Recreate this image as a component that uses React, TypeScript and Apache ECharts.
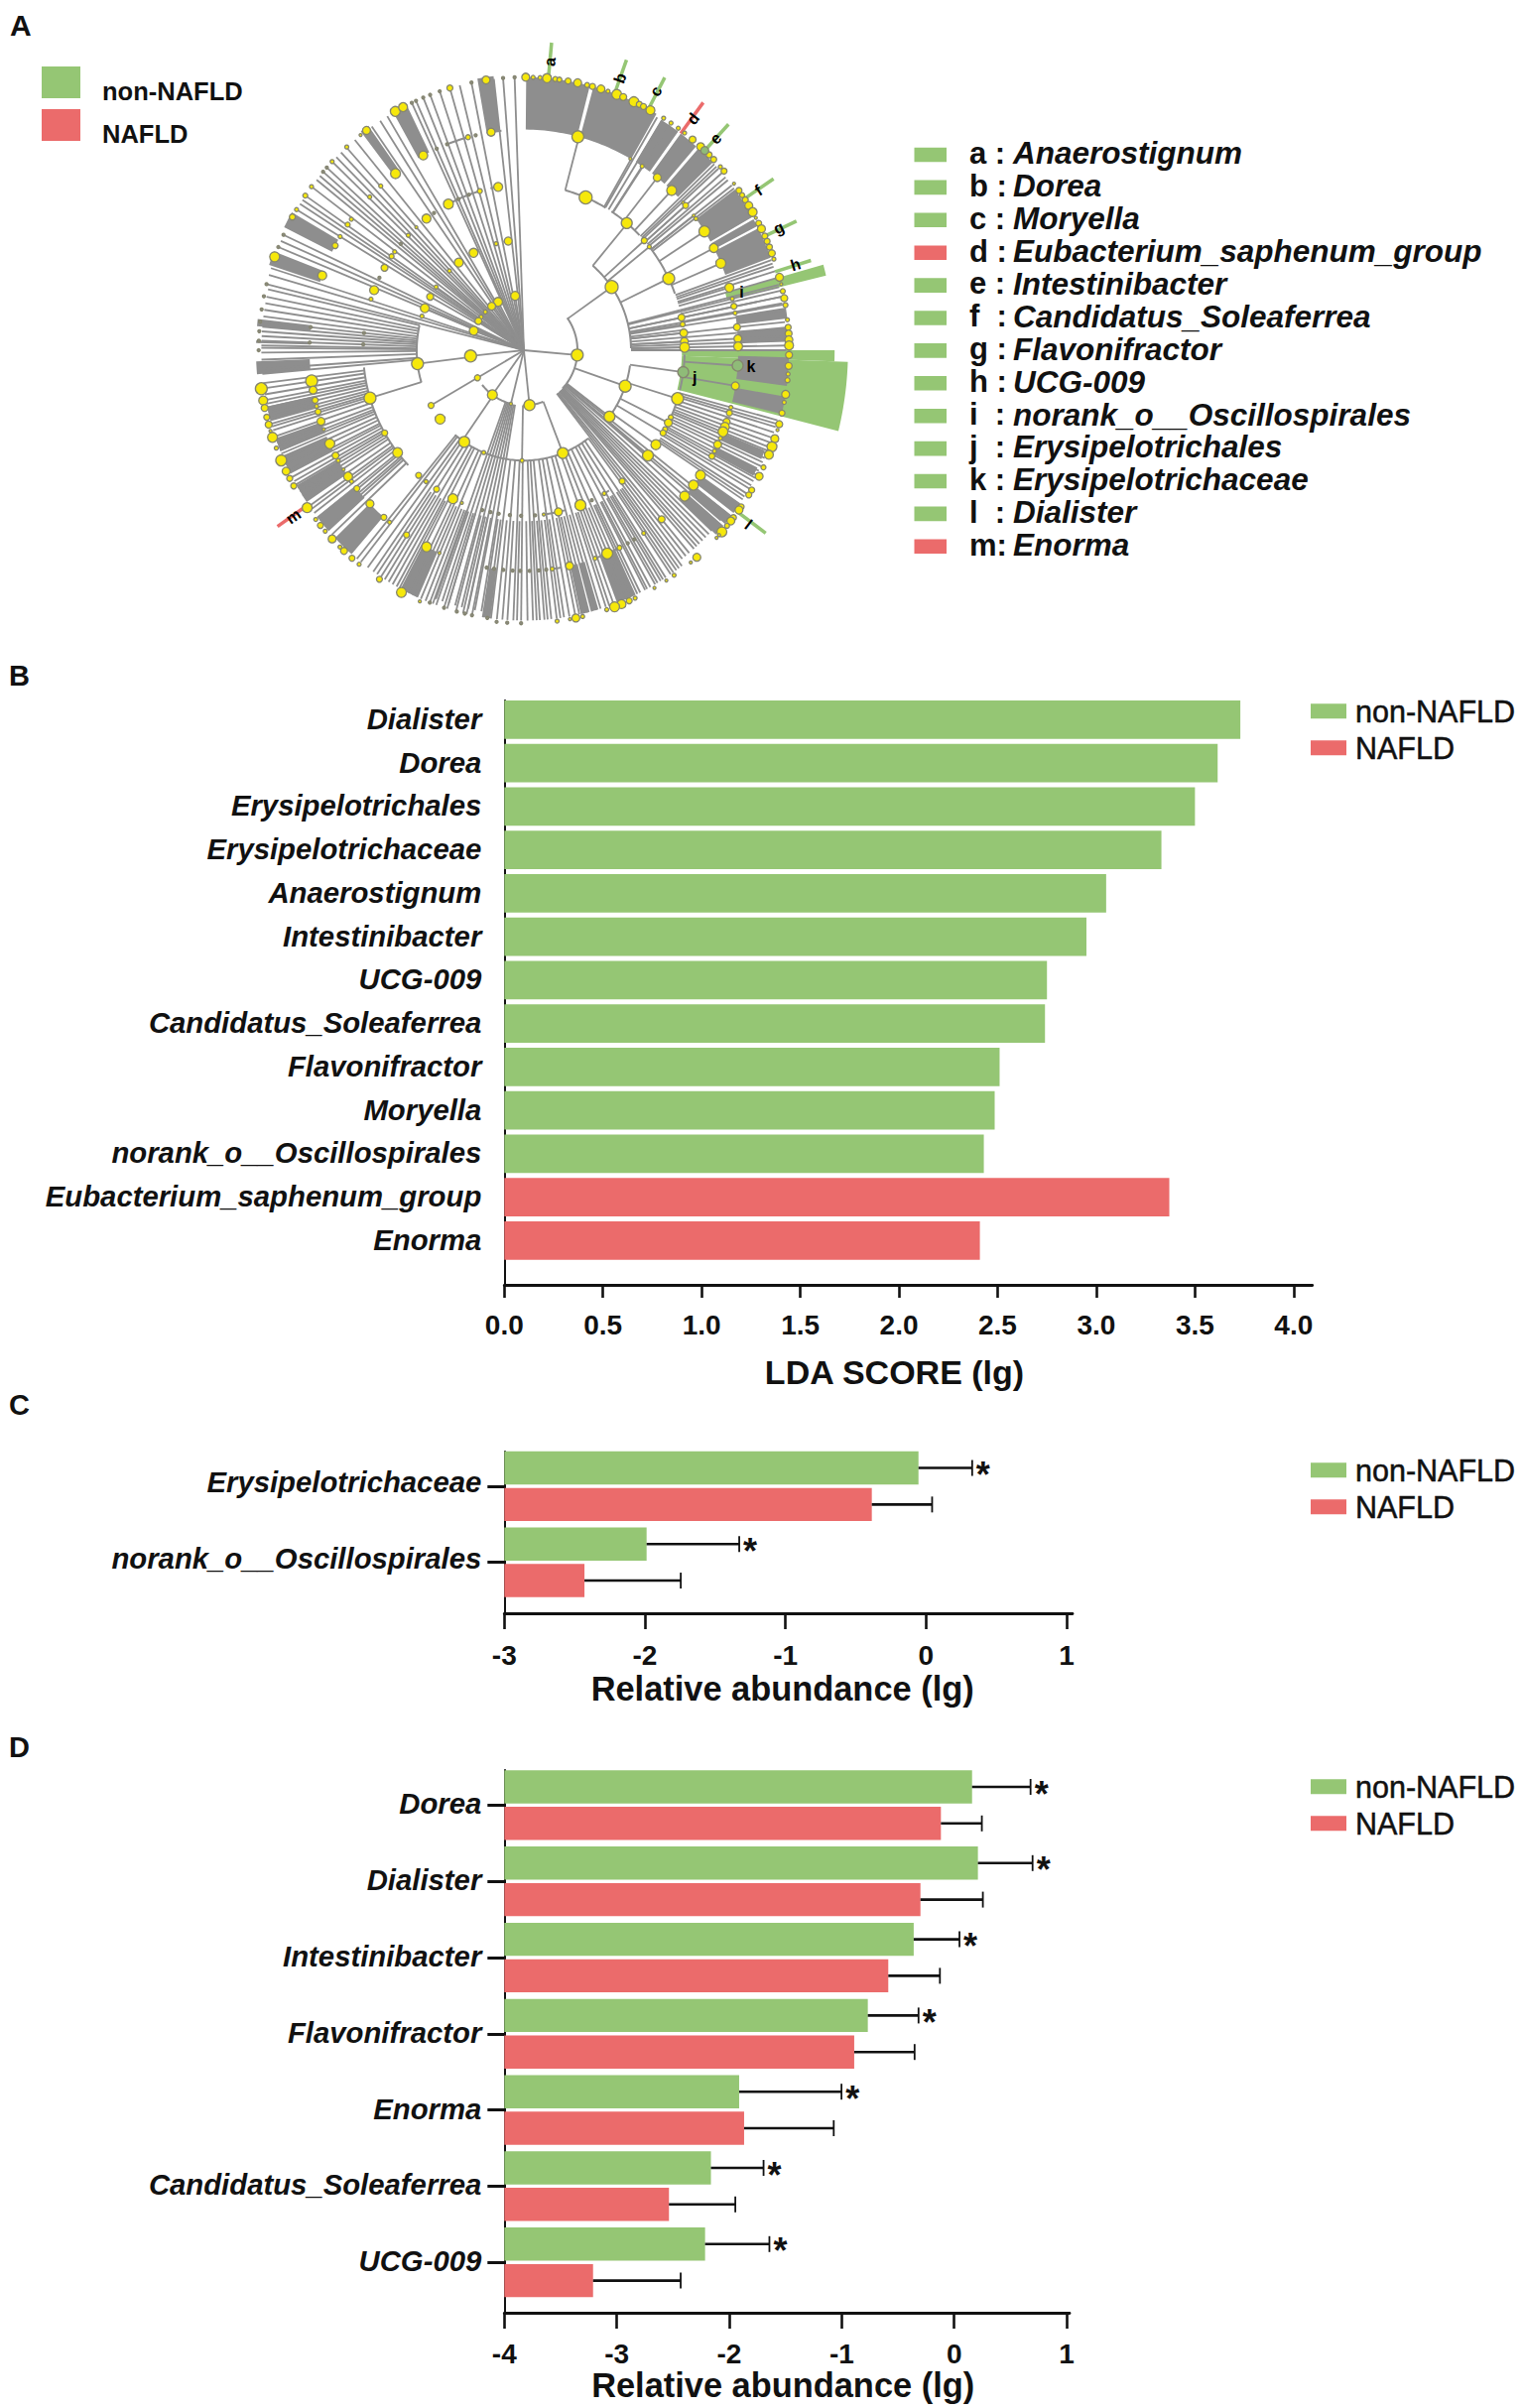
import React, { useEffect, useRef } from "react";
import * as echarts from "echarts";

const GREEN = "#95C674";
const RED = "#EB6B6B";
const GREY = "#8E8E8E";
const FONT = "'Liberation Sans', Arial, sans-serif";

// Panel B
const ldaNames = ["Dialister", "Dorea", "Erysipelotrichales", "Erysipelotrichaceae", "Anaerostignum", "Intestinibacter", "UCG-009", "Candidatus_Soleaferrea", "Flavonifractor", "Moryella", "norank_o__Oscillospirales", "Eubacterium_saphenum_group", "Enorma"];
const ldaNonNafld = [3.73, 3.615, 3.5, 3.33, 3.05, 2.95, 2.75, 2.74, 2.51, 2.485, 2.43, null, null];
const ldaNafld = [null, null, null, null, null, null, null, null, null, null, null, 3.37, 2.41];
const ldaTicks = [0, 0.5, 1, 1.5, 2, 2.5, 3, 3.5, 4];

// Panel C
const cNames = ["Erysipelotrichaceae", "norank_o__Oscillospirales"];
const cNonNafld = [-0.054, -1.988];
const cNonNafldErr = [0.328, -1.329];
const cNafld = [-0.386, -2.43];
const cNafldErr = [0.043, -1.745];
const cTicks = [-3, -2, -1, 0, 1];

// Panel D
const dNames = ["Dorea", "Dialister", "Intestinibacter", "Flavonifractor", "Enorma", "Candidatus_Soleaferrea", "UCG-009"];
const dNonNafld = [0.159, 0.211, -0.36, -0.768, -1.912, -2.163, -2.215];
const dNonNafldErr = [0.679, 0.697, 0.047, -0.317, -1.002, -1.695, -1.643];
const dNafld = [-0.118, -0.3, -0.586, -0.889, -1.868, -2.536, -3.211];
const dNafldErr = [0.246, 0.255, -0.127, -0.352, -1.071, -1.946, -2.432];
const dTicks = [-4, -3, -2, -1, 0, 1];

// Panel A: key
const keyLetters = ["a :", "b :", "c :", "d :", "e :", "f  :", "g :", "h :", "i  :", "j  :", "k :", "l  :", "m:"];
const keyNames = ["Anaerostignum", "Dorea", "Moryella", "Eubacterium_saphenum_group", "Intestinibacter", "Candidatus_Soleaferrea", "Flavonifractor", "UCG-009", "norank_o__Oscillospirales", "Erysipelotrichales", "Erysipelotrichaceae", "Dialister", "Enorma"];
const keyGroups = [0, 0, 0, 1, 0, 0, 0, 0, 0, 0, 0, 0, 1];

// Panel A: cladogram, in [angle clockwise from north, ring radius]
const centreSpokes = [358, 355.5, 353.5, 348.6, 346, 343.8, 341.5, 339.3, 337.7, 336, 335, 329, 327.2, 325, 320.4, 318, 316.4, 315, 313.7, 312, 310.8, 309.7, 308.6, 306.8, 304.5, 303.4, 302.4, 301, 295, 293.6, 292.2, 287.5, 286, 284];
const centreToPhylum = [95, 174, 194, 216, 240, 264, 350.6, 331.2, 323, 311, 307, 302, 290.7];
const phylumToClass = [55, 109, 127, 158.7, 181, 215, 240, 263, 305, 299, 292.4];
const phylumSpokesOut = [128, 129.2, 130, 131.5, 133, 134, 135, 136, 137, 137.8, 138.6, 140, 141, 142, 189.5, 191, 192.5, 194, 195.5, 197, 198.5, 200];
const classToOrder = [40, 48.5, 51.3, 64.3, 76, 78.6, 81, 83, 84, 87, 89, 97.6, 107, 116, 120, 124.8, 129.5, 253.2];
const classSpokesOut = [76.5, 78.6, 80.3, 81.5, 84, 85.5, 87, 88, 89, 90, 143, 145.3, 147.3, 149.4, 151.2, 153.7, 156, 158, 160, 163, 165, 167.8, 170, 172, 174.8, 176.5, 178, 180.6, 182.3, 184.7, 187.2, 203.1, 205, 207.5, 209, 211, 213, 215, 216.5, 218.4, 219.5, 265, 266, 268, 269.5, 270.5, 271, 272, 273, 274, 275, 276, 277.2, 278.6, 280, 281.4, 283];
const bottomOuterSpokes = [143.8, 144.5, 146, 148, 148.6, 150, 152, 152.5, 154.4, 155, 157, 159, 161, 161.8, 164, 166, 167, 168.7, 171.2, 172.8, 174, 175.5, 177.2, 179.2, 181.5, 183.6, 185.9, 188, 189, 191.4, 192.6, 193.4, 195, 197, 197.7, 199.5, 200.3, 201, 202, 204, 206, 208.3, 210, 212, 214];
const orderToFamily = [14.9, 30, 33.5, 38.5, 43.6, 49, 52.4, 57.4, 62.4, 66.8, 73.5, 94, 99.3];
const orderSpokesOut = [30.5, 31.8, 33.7, 46.5, 47.2, 47.8, 49, 50.2, 51, 52.4, 53.2, 70.5, 71.3, 72, 73, 74.5, 76, 77.3, 78.6, 80, 105, 105.8, 106.5, 107.7, 108.9, 110, 111, 111.8, 112.5, 113.5, 114.5, 115.4, 116.5, 117.5, 118.2, 119, 120, 120.8, 122, 122.8, 123.5, 227, 228.5, 229.3, 230, 231, 231.7, 233, 234, 234.8, 236, 237.5, 238.5, 239.4, 240.2, 241, 242, 243, 243.7, 245, 246.2, 247.5, 248.3, 249, 250, 251.4, 252.8, 253.6, 254.2, 255, 255.8, 256.8, 257.8, 258.6, 259.4, 260.6, 261.9, 263];
const cladeArcs = [
  [0.2, 54, 134], [0.2, 159, 181], [0.2, 194, 231],
  [0.4, 40, 89], [0.4, 98, 127], [0.4, 143, 220], [0.4, 253, 283],
  [0.6, 14.9, 30.5], [0.6, 33, 46], [0.6, 51.5, 70], [0.6, 91.5, 104], [0.6, 105, 114], [0.6, 226, 264],
  [0.6, 148, 151], [0.6, 165, 173], [0.6, 332, 345], [0.6, 348, 352], [0.8, 153, 160], [0.8, 170, 173], [0.8, 339, 345], [0.8, 350, 354], [0.4, 349, 352],
];
const leafBands = [
  [0.5, 14.4, 0.8, 0.99], [15.2, 30, 0.8, 0.99], [31.5, 36, 0.8, 0.98], [36.7, 41, 0.8, 0.98], [41.7, 46, 0.8, 0.98],
  [53.5, 60.5, 0.8, 0.98], [61, 62.7, 0.8, 0.98], [63.2, 70, 0.8, 0.98], [81, 83.3, 0.8, 0.99], [85, 88, 0.8, 0.99],
  [91.5, 97.5, 0.8, 0.99], [99.8, 103.5, 0.8, 0.99], [112, 114, 0.8, 0.97], [116, 118, 0.8, 0.97],
  [124.5, 127, 0.8, 0.98], [127.7, 130, 0.8, 0.98], [130.5, 133, 0.8, 0.98], [155, 159, 0.8, 0.98], [163.5, 165, 0.8, 0.98], [165.5, 167.5, 0.8, 0.98], [187.3, 189, 0.8, 0.98],
  [204, 208, 0.8, 0.98], [221, 226, 0.8, 0.98], [228, 232, 0.8, 0.98], [236, 240, 0.8, 0.98], [243, 247, 0.8, 0.98], [248, 251, 0.8, 0.98], [255, 258, 0.8, 0.98],
  [265, 267.7, 0.8, 1], [271.5, 272, 0.8, 1], [275, 276.5, 0.8, 1], [288, 291, 0.8, 1], [296.5, 300, 0.8, 1], [322.5, 324.5, 0.8, 1], [330.5, 333.8, 0.8, 1], [350, 353.5, 0.8, 1],
];
const highlightBands = [[90, 92, 0.59, 1.16], [92, 104, 0.59, 1.21], [74.5, 76.5, 0.78, 1.16]];
const markerAngles = [5.3, 20, 28, 36.7, 43, 56.3, 65.3, 73.1, 126.3, 235.2];
const markerGroups = [0, 0, 0, 1, 0, 0, 0, 0, 0, 1];
const cladeLabels = ["a", "b", "c", "d", "e", "f", "g", "h", "i", "j", "k", "l", "m"];
const cladeLabelAngles = [5.3, 20, 27.7, 37, 43, 56.5, 65, 73, 75.5, 98.7, 94, 127, 235];
const cladeLabelRadii = [1.05, 1.05, 1.06, 1.05, 1.05, 1.05, 1.05, 1.06, 0.84, 0.645, 0.85, 1.05, 1.05];
const cladeLabelTurns = [85, 70, 62, 53, 47, 33, 25, 17, 0, 0, 0, -37, 35];

const genusNodes = [
  [0.4, 4], [2, 2], [3.5, 2], [5, 4.5], [6.8, 2.5], [7.7, 2.5], [9.6, 3], [11.7, 4], [13.8, 2.5], [15, 3], [16.9, 4], [18.5, 2], [20.5, 5], [22, 3.5], [24.5, 5], [25.8, 3], [26.8, 3], [28.5, 4.5],
  [31.8, 2], [33.7, 2], [35.6, 2], [37.3, 2], [39.5, 3.5], [41.8, 4], [44.3, 3], [45.7, 3], [47.8, 2], [49, 3], [52.4, 1.5], [54.2, 3], [55.4, 2.5], [56.6, 3], [58, 4], [59.6, 4.5], [61, 1.5], [62.3, 3], [63.6, 4], [65.3, 3], [66.5, 3], [67.8, 3], [69.2, 3.5], [70.5, 2], [74.5, 4], [76, 1.5], [77.5, 2.5], [79, 3.5], [80.5, 2.5], [83.6, 2], [85.2, 3], [86.5, 3.5], [87.8, 4], [89, 4.5], [91, 3.5],
  [93.3, 3.5], [95, 2], [96.3, 2.5], [99.3, 4], [101, 2], [103.3, 3], [105.7, 3.5], [107, 1.5], [108.9, 4], [110.7, 5], [112.5, 4.5], [115.4, 2.5], [117.5, 4], [120.8, 3], [122, 3], [125, 3], [125.8, 4], [127.8, 3], [128.7, 4], [130, 2.5], [131.7, 5], [132.6, 1.5], [133.4, 1.5],
  [139.3, 4], [141, 1.5], [145.5, 2], [147.5, 1.5], [150.5, 1.5], [155.2, 2], [156.6, 3], [158.4, 4.5], [160, 5], [161.8, 2], [167.2, 2], [168.7, 4], [170, 1.5], [172.8, 2],
  [261.9, 6], [259.4, 4.5], [257.8, 3.5], [255.8, 3], [254.2, 3.5], [252.8, 1.5], [251.4, 5], [249, 2], [246.2, 5.5], [243.7, 4], [242, 3], [240.2, 3], [234.8, 5], [231.7, 2], [230.1, 3], [228.5, 2], [226.3, 4], [223.9, 2], [222.7, 3.5], [220.4, 3], [218.4, 2], [213, 3], [207.5, 5], [203.1, 1.5],
  [351.8, 4], [343.8, 3], [331, 5], [332.9, 4.5], [323.6, 4], [322, 1.5], [318.1, 2], [313.7, 2], [306.8, 2], [304.5, 2.5], [301, 2], [299.2, 3], [290, 5],
];
const familyNodes = [
  [14.6, 6], [29.8, 1.5], [33.5, 2], [38.5, 4], [43.6, 5], [48, 1.5], [49, 3], [52.4, 1.5], [53.4, 2], [57.4, 5.5], [62.4, 4.5], [66.8, 5], [73.5, 4.5], [76.5, 2], [78.5, 3], [80.3, 2], [84, 3.5], [87, 4], [89, 4.5],
  [99.3, 4], [105, 2], [106.5, 3], [108.9, 3.5], [110.3, 4.5], [111.7, 5], [113.5, 2], [115.3, 4], [117.2, 2], [118.7, 3], [124.5, 5], [127.7, 5], [131.4, 5],
  [140, 3.5], [146, 2], [153.5, 2.5], [157.1, 5.5], [160.6, 2], [167.7, 4], [172.4, 2],
  [262, 6], [259.6, 4], [256.9, 3], [255.3, 2], [253.8, 3], [251.2, 4], [249, 1.5], [244.9, 5], [241.5, 3.5], [240, 2], [237.3, 1.5], [235.1, 4.5], [233.5, 2], [231.2, 3], [225.9, 4], [220.8, 3], [218.8, 2], [213.2, 3], [207, 5], [203.2, 1.5],
  [351.2, 4], [344.9, 2.5], [332, 4.5], [323.2, 5], [318.1, 2], [314, 2], [306.4, 2], [304.7, 2.5], [301, 2], [298.3, 3], [289.8, 4.5],
];
const orderNodes = [
  [22.6, 6.5], [39.8, 5.5], [48.5, 3], [51.3, 2], [64.3, 6], [78.6, 3.5], [81, 2.5], [84, 4], [87, 4], [89, 5], [107, 6], [113.9, 2.5], [116, 4], [118.5, 2.5], [120, 3], [124.8, 5], [129.5, 5.5],
  [142.3, 3], [150, 2], [159.4, 5.5], [167.6, 4], [172.9, 1.5],
  [253.2, 6], [240, 3], [231.8, 5], [220.9, 3], [217.5, 2], [212.9, 3], [206.2, 5], [202.7, 1.5],
  [350.8, 4.5], [344.1, 2.5], [332, 5], [322.7, 4.5], [318, 1.5], [314, 2], [306.5, 2], [304.6, 2.5], [299.9, 3.5], [291.3, 4.5], [288, 2],
];
const classNodes = [[55, 6.5], [109, 6], [127, 5.5], [158.7, 5.5], [181, 2], [202, 2], [213.8, 5.5], [231.4, 5], [240, 3], [263, 6], [351.6, 4], [345, 2], [332, 4.5], [322.6, 4.5], [316, 2], [305, 2], [299, 3.5], [292.4, 4.5], [288, 2]];
const phylumNodes = [[95, 6], [174, 5.5], [194, 1.5], [216, 5], [240, 3], [264, 6], [350.6, 4.5], [331.2, 4.5], [323, 4], [314, 2], [307, 2], [302, 3.5], [290.7, 4.5]];
const tinyNodes = [
  [180.6, 0.99], [183.6, 0.99], [185.9, 0.99], [188, 0.98], [191.4, 0.98], [193, 0.98], [194.8, 0.98], [197.7, 0.98], [201, 0.98], [355.5, 0.99], [358, 0.99], [348.6, 0.99], [341.5, 0.99], [339.3, 0.99], [337.7, 0.99], [336, 0.99], [335, 0.99], [312, 0.99], [310.8, 0.99], [295, 0.99], [292.2, 0.99], [284, 0.99], [281.4, 0.99], [278.6, 0.99], [276, 0.99], [274, 0.99], [272, 0.99], [270, 0.99],
  [174, 0.8], [176, 0.8], [178.5, 0.8], [181, 0.8], [183, 0.8], [185.5, 0.8], [188, 0.8], [190, 0.8], [176, 0.6], [181, 0.6], [185, 0.6], [189, 0.6], [192, 0.6], [195, 0.6], [276, 0.8], [272, 0.8], [276, 0.6], [272, 0.6],
  [347, 0.8], [336, 0.8], [339, 0.8], [336, 0.6], [340, 0.6], [326, 0.6], [310, 0.6], [296, 0.6], [149, 0.8], [151, 0.8], [155, 0.6],
];

const polar = (angle: number, r: number) => {
  const t = (angle * Math.PI) / 180;
  return [r * Math.sin(t), r * Math.cos(t)];
};
const arcPoints = (api: any, r: number, a0: number, a1: number) => {
  const pts: number[][] = [];
  for (let a = a0; a < a1; a += 1) pts.push(api.coord(polar(a, r)));
  pts.push(api.coord(polar(a1, r)));
  return pts;
};

const spokeRows = [
  ...centreSpokes.map((a) => [a, 0, 0.99]),
  ...centreToPhylum.map((a) => [a, 0, 0.2]),
  ...phylumToClass.map((a) => [a, 0.2, 0.4]),
  ...phylumSpokesOut.map((a) => [a, 0.2, 0.96]),
  ...classToOrder.map((a) => [a, 0.4, 0.6]),
  ...classSpokesOut.map((a) => [a, 0.4, 0.98]),
  ...bottomOuterSpokes.map((a) => [a, 0.62, 0.98]),
  ...orderToFamily.map((a) => [a, 0.6, 0.8]),
  ...orderSpokesOut.map((a) => [a, 0.6, 0.98]),
];
const nodeRows = [
  ...tinyNodes.map((n) => [n[0], n[1], 1.5, 1]),
  ...genusNodes.map((n) => [n[0], 0.99, n[1], 0]),
  ...familyNodes.map((n) => [n[0], 0.8, n[1], 0]),
  ...orderNodes.map((n) => [n[0], 0.6, n[1], 0]),
  ...classNodes.map((n) => [n[0], 0.4, n[1], 0]),
  ...phylumNodes.map((n) => [n[0], 0.2, n[1], 0]),
  [43, 0.99, 4, 2],
  [97.6, 0.6, 5.5, 2],
  [94, 0.8, 5.5, 2],
];

const sectorRender = (color: string) => (_: any, api: any) => {
  const a0 = api.value(0), a1 = api.value(1), r0 = api.value(2), r1 = api.value(3);
  return {
    type: "polygon",
    shape: { points: [...arcPoints(api, r0, a0, a1), ...arcPoints(api, r1, a0, a1).reverse()] },
    style: { fill: color, stroke: "none" },
  };
};

const barRender = (axisMin: number, shift: number, color: string, star: boolean) => (_: any, api: any) => {
  const value = api.value(0), cat = api.value(1), err = api.value(2);
  const start = api.coord([axisMin, cat]);
  const end = api.coord([value, cat]);
  const cap = api.coord([err, cat]);
  const y = start[1] + shift;
  const children: any[] = [
    { type: "rect", shape: { x: start[0], y: y - 16.7, width: end[0] - start[0], height: 33.4 }, style: { fill: color } },
    { type: "line", shape: { x1: end[0], y1: y, x2: cap[0], y2: y }, style: { stroke: "#111", lineWidth: 2.6 } },
    { type: "line", shape: { x1: cap[0], y1: y - 8, x2: cap[0], y2: y + 8 }, style: { stroke: "#111", lineWidth: 1.8 } },
  ];
  if (star) children.push({ type: "text", x: cap[0] + 11, y: y + 7, style: { text: "*", font: `bold 36px ${FONT}`, fill: "#111", align: "center", verticalAlign: "middle" } });
  return { type: "group", children };
};

const outerAxes = (i: number, min: number, max: number, ticks: number[], name: string, gap: number, shift: number, labelMargin: number, digits: number, tickLen: number, nameSize: number) => ({
  x: {
    gridIndex: i, type: "value", min, max, name, nameLocation: "middle", nameGap: gap,
    nameTextStyle: { fontFamily: FONT, fontWeight: "bold", fontSize: nameSize, color: "#111", padding: [0, shift, 0, 0] },
    axisLine: { show: true, onZero: false, lineStyle: { color: "#111", width: 2.8 } },
    axisTick: { show: true, length: tickLen, customValues: ticks, lineStyle: { color: "#111", width: 2.6 } },
    axisLabel: { customValues: ticks, margin: labelMargin, fontFamily: FONT, fontWeight: "bold", fontSize: 28, color: "#111", formatter: (v: number) => v.toFixed(digits) },
    splitLine: { show: false },
  },
  y: {
    gridIndex: i, type: "value", min: 0, max: 1,
    axisLine: { show: true, onZero: false, lineStyle: { color: "#111", width: 2 } },
    axisTick: { show: false }, axisLabel: { show: false }, splitLine: { show: false },
  },
});
const hiddenX = (i: number, min: number, max: number) => ({ gridIndex: i, type: "value", min, max, show: false });
const catAxis = (i: number, data: string[], ticks: boolean, margin: number, lineHeight: number) => ({
  gridIndex: i, type: "category", data, inverse: true,
  axisLine: { show: false, onZero: false },
  axisTick: { show: ticks, alignWithLabel: true, length: 17, lineStyle: { color: "#111", width: 3 } },
  axisLabel: { margin, verticalAlign: "bottom", lineHeight, fontFamily: FONT, fontWeight: "bold", fontStyle: "italic", fontSize: 29.3, color: "#111", interval: 0 },
});
const legendAt = (top: number) => ({
  left: 1321, top, orient: "vertical", icon: "rect", itemWidth: 36, itemHeight: 15, itemGap: 5.5, selectedMode: false, padding: 0,
  data: ["non-NAFLD", "NAFLD"],
  textStyle: { fontFamily: FONT, fontSize: 30.5, color: "#111", lineHeight: 30, padding: [0, 0, 0, 4], textBorderColor: "#111", textBorderWidth: 0.5 },
});
const txt = (x: number, y: number, text: string, font: string) => ({ type: "text", x, y, silent: true, style: { text, font: `${font} ${FONT}`, fill: "#111", align: "left", verticalAlign: "middle" } });

const buildOption = () => {
  const bAxes = outerAxes(2, 0, 4.095, ldaTicks, "LDA SCORE (lg)", 71, 28, 26, 1, 13, 34);
  const cAxes = outerAxes(4, -3, 1.042, cTicks, "Relative abundance (lg)", 59, 12, 28, 0, 16, 34.4);
  const dAxes = outerAxes(6, -4, 1.026, dTicks, "Relative abundance (lg)", 55, 8, 27, 0, 16, 34.4);
  const graphics: any[] = [
    txt(10, 25, "A", "bold 30px"), txt(9, 681, "B", "bold 29px"), txt(9, 1416, "C", "bold 29px"), txt(9, 1761, "D", "bold 29px"),
    { type: "rect", shape: { x: 42, y: 67, width: 39, height: 32 }, style: { fill: GREEN } },
    { type: "rect", shape: { x: 42, y: 110, width: 39, height: 32 }, style: { fill: RED } },
    txt(103, 92, "non-NAFLD", "bold 25.5px"), txt(103, 135, "NAFLD", "bold 25.5px"),
  ];
  keyNames.forEach((name, i) => {
    const y = 156 + i * 32.9;
    graphics.push({ type: "rect", shape: { x: 921.5, y: y - 7.3, width: 32.5, height: 14.6 }, style: { fill: keyGroups[i] ? RED : GREEN } });
    graphics.push(txt(977, y - 1.7, keyLetters[i], "bold 31px"));
    graphics.push(txt(1021, y - 1.7, name, "italic bold 31.5px"));
  });

  const clado = { xAxisIndex: 0, yAxisIndex: 0, type: "custom", silent: true, clip: false };
  return {
    animation: false,
    backgroundColor: "#fff",
    textStyle: { fontFamily: FONT },
    graphic: graphics,
    legend: [legendAt(701), legendAt(1466), legendAt(1785)],
    grid: [
      { left: 258, top: 75, width: 540, height: 556 },
      { left: 508.3, top: 703.5, width: 814.4, height: 568.7 },
      { left: 508.3, top: 706, width: 814.4, height: 589 },
      { left: 508.3, top: 1459.6, width: 572.7, height: 153.4 },
      { left: 508.3, top: 1463, width: 572.7, height: 163 },
      { left: 508.3, top: 1781, width: 569.7, height: 537.6 },
      { left: 508.3, top: 1784, width: 569.7, height: 547 },
    ],
    xAxis: [
      { gridIndex: 0, type: "value", min: -1, max: 1, show: false },
      hiddenX(1, 0, 4.095), bAxes.x,
      hiddenX(3, -3, 1.042), cAxes.x,
      hiddenX(5, -4, 1.026), dAxes.x,
    ],
    yAxis: [
      { gridIndex: 0, type: "value", min: -1, max: 1, show: false },
      catAxis(1, ldaNames, false, 23, 2), bAxes.y,
      catAxis(3, cNames, true, 23, 8), cAxes.y,
      catAxis(5, dNames, true, 23, 3), dAxes.y,
    ],
    series: [
      { ...clado, name: "highlight", z: 1, data: highlightBands, renderItem: sectorRender(GREEN) },
      { ...clado, name: "leaf bands", z: 2, data: leafBands, renderItem: sectorRender(GREY) },
      {
        ...clado, name: "spokes", z: 3, data: spokeRows,
        renderItem: (_: any, api: any) => {
          const p0 = api.coord(polar(api.value(0), api.value(1)));
          const p1 = api.coord(polar(api.value(0), api.value(2)));
          return { type: "line", shape: { x1: p0[0], y1: p0[1], x2: p1[0], y2: p1[1] }, style: { stroke: GREY, lineWidth: 1.8 } };
        },
      },
      {
        ...clado, name: "arcs", z: 3, data: cladeArcs,
        renderItem: (_: any, api: any) => ({ type: "polyline", shape: { points: arcPoints(api, api.value(0), api.value(1), api.value(2)) }, style: { stroke: GREY, lineWidth: 2, fill: "none" } }),
      },
      {
        ...clado, name: "markers", z: 4, data: markerAngles.map((a, i) => [a, markerGroups[i]]),
        renderItem: (_: any, api: any) => {
          const p0 = api.coord(polar(api.value(0), 0.98));
          const p1 = api.coord(polar(api.value(0), 1.12));
          return { type: "line", shape: { x1: p0[0], y1: p0[1], x2: p1[0], y2: p1[1] }, style: { stroke: api.value(1) ? RED : GREEN, lineWidth: 3.5 } };
        },
      },
      {
        ...clado, name: "nodes", z: 5, data: nodeRows,
        renderItem: (_: any, api: any) => {
          const p = api.coord(polar(api.value(0), api.value(1)));
          const kind = api.value(3);
          return {
            type: "circle", shape: { cx: p[0], cy: p[1], r: api.value(2) },
            style: { fill: kind === 2 ? "#8FBB78" : kind === 1 ? "#8A8A80" : "#F6E80B", stroke: "#85856F", lineWidth: 1.3 },
          };
        },
      },
      {
        ...clado, name: "clade labels", z: 6, data: cladeLabels.map((_, i) => [cladeLabelAngles[i], cladeLabelRadii[i], cladeLabelTurns[i], i]),
        renderItem: (_: any, api: any) => {
          const p = api.coord(polar(api.value(0), api.value(1)));
          return { type: "text", x: p[0], y: p[1], rotation: (api.value(2) * Math.PI) / 180, style: { text: cladeLabels[api.value(3)], font: `bold 16px ${FONT}`, fill: "#000", align: "center", verticalAlign: "middle" } };
        },
      },

      { type: "bar", name: "non-NAFLD", xAxisIndex: 1, yAxisIndex: 1, data: ldaNonNafld, barWidth: 38.8, barGap: "-100%", itemStyle: { color: GREEN } },
      { type: "bar", name: "NAFLD", xAxisIndex: 1, yAxisIndex: 1, data: ldaNafld, barWidth: 38.8, barGap: "-100%", itemStyle: { color: RED } },

      { type: "custom", name: "non-NAFLD", xAxisIndex: 3, yAxisIndex: 3, itemStyle: { color: GREEN }, data: cNonNafld.map((v, i) => [v, i, cNonNafldErr[i]]), renderItem: barRender(-3, -18.4, GREEN, true) },
      { type: "custom", name: "NAFLD", xAxisIndex: 3, yAxisIndex: 3, itemStyle: { color: RED }, data: cNafld.map((v, i) => [v, i, cNafldErr[i]]), renderItem: barRender(-3, 18.4, RED, false) },

      { type: "custom", name: "non-NAFLD", xAxisIndex: 5, yAxisIndex: 5, itemStyle: { color: GREEN }, data: dNonNafld.map((v, i) => [v, i, dNonNafldErr[i]]), renderItem: barRender(-4, -18.4, GREEN, true) },
      { type: "custom", name: "NAFLD", xAxisIndex: 5, yAxisIndex: 5, itemStyle: { color: RED }, data: dNafld.map((v, i) => [v, i, dNafldErr[i]]), renderItem: barRender(-4, 18.4, RED, false) },
    ],
  };
};

export default function App() {
  const ref = useRef<HTMLDivElement>(null);
  useEffect(() => {
    document.body.style.margin = "0";
    const chart = echarts.init(ref.current as HTMLDivElement, null, { renderer: "svg" });
    chart.setOption(buildOption() as any);
    return () => chart.dispose();
  }, []);
  return <div ref={ref} style={{ position: "absolute", left: 0, top: 0, width: 1536, height: 2427 }} />;
}
